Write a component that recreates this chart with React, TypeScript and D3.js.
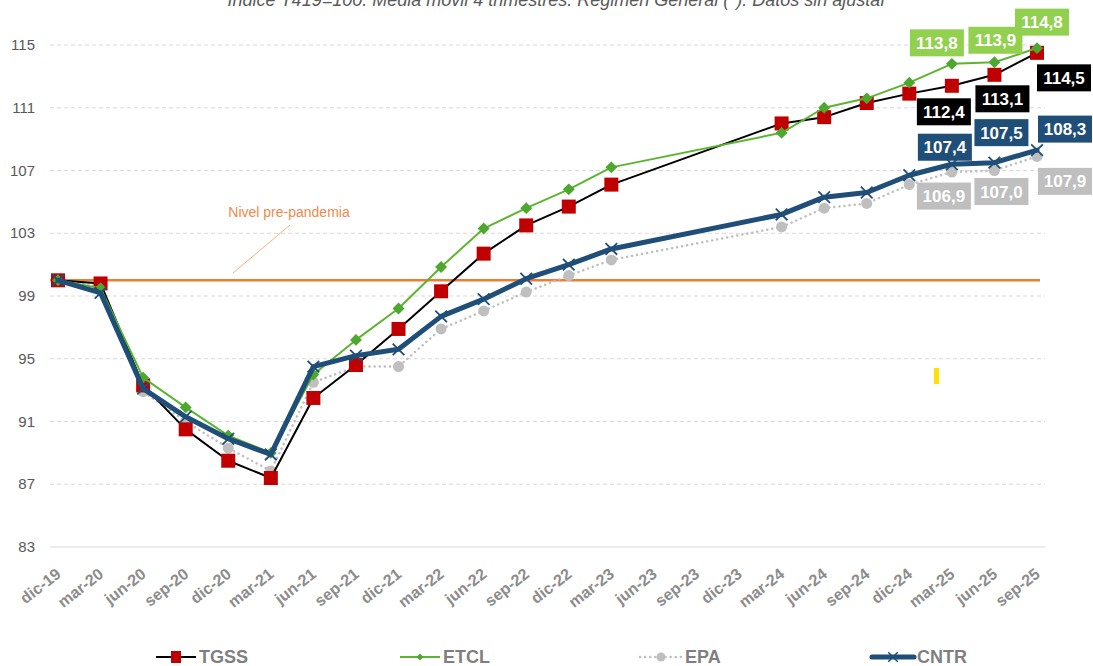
import React, { useRef, useEffect } from 'react'
import * as d3 from 'd3'

const categories = ['dic-19', 'mar-20', 'jun-20', 'sep-20', 'dic-20', 'mar-21', 'jun-21', 'sep-21', 'dic-21', 'mar-22', 'jun-22', 'sep-22',
  'dic-22', 'mar-23', 'jun-23', 'sep-23', 'dic-23', 'mar-24', 'jun-24', 'sep-24', 'dic-24', 'mar-25', 'jun-25', 'sep-25']

const tgss = [100, 99.8, 93.3, 90.5, 88.5, 87.4, 92.5, 94.6, 96.9, 99.3, 101.7, 103.5, 104.7, 106.1, null, null, null, 110.0, 110.4, 111.3, 111.9, 112.4, 113.1, 114.5]
const etcl = [100, 99.5, 93.8, 91.9, 90.1, 89.0, 94.0, 96.2, 98.2, 100.85, 103.3, 104.6, 105.8, 107.2, null, null, null, 109.4, 111.0, 111.6, 112.6, 113.8, 113.9, 114.8]
const epa = [100, 99.6, 92.9, 91.0, 89.3, 87.85, 93.5, 94.5, 94.5, 96.9, 98.05, 99.25, 100.3, 101.3, null, null, null, 103.4, 104.6, 104.9, 106.1, 106.9, 107.0, 107.9]
const cntr = [100, 99.2, 93.1, 91.3, 89.9, 88.9, 94.5, 95.2, 95.6, 97.7, 98.8, 100.1, 101.0, 102.0, null, null, null, 104.2, 105.3, 105.6, 106.7, 107.4, 107.5, 108.3]

const yTicks = [83, 87, 91, 95, 99, 103, 107, 111, 115]
const preLevel = 100

const title = 'Índice T419=100. Media móvil 4 trimestres. Régimen General (*). Datos sin ajustar'

export default function App() {
  const ref = useRef(null)

  const layout = { width: 1093, height: 666, left: 50, right: 1045, top: 45, bottom: 547 }

  useEffect(() => {
    const svg = d3.select(ref.current)
    svg.selectAll('*').remove()

    const x = d3.scalePoint().domain(categories).range([58, 1037])
    const y = d3.scaleLinear().domain([83, 115]).range([layout.bottom, layout.top])

    const font = 'Liberation Sans, Arial, sans-serif'

    // title (cut at the top like the original)
    svg.append('text')
      .attr('x', 557).attr('y', 6)
      .attr('text-anchor', 'middle')
      .attr('font-family', font).attr('font-style', 'italic')
      .attr('font-size', 18).attr('fill', '#595959')
      .text(title)

    // grid
    svg.append('g').selectAll('line')
      .data(yTicks)
      .join('line')
      .attr('x1', layout.left).attr('x2', layout.right)
      .attr('y1', d => y(d)).attr('y2', d => y(d))
      .attr('stroke', '#d9d9d9')
      .attr('stroke-width', 1)
      .attr('stroke-dasharray', d => d === 83 ? null : '4,3')

    svg.append('g').selectAll('text')
      .data(yTicks)
      .join('text')
      .attr('x', 35).attr('y', d => y(d) + 5)
      .attr('text-anchor', 'end')
      .attr('font-family', font).attr('font-size', 15)
      .attr('fill', '#595959')
      .text(d => d)

    svg.append('g').selectAll('text')
      .data(categories)
      .join('text')
      .attr('transform', d => `translate(${x(d) + 4},${576}) rotate(-38)`)
      .attr('text-anchor', 'end')
      .attr('font-family', font).attr('font-size', 16).attr('font-weight', 'bold')
      .attr('fill', '#8c8c8c')
      .text(d => d)

    // pre-pandemic level
    svg.append('line')
      .attr('x1', layout.left).attr('x2', 1040)
      .attr('y1', y(preLevel)).attr('y2', y(preLevel))
      .attr('stroke', '#ed7d31').attr('stroke-width', 2.5)

    svg.append('line')
      .attr('x1', 290).attr('y1', 225).attr('x2', 233).attr('y2', 273)
      .attr('stroke', '#f4b183').attr('stroke-width', 1)

    svg.append('text')
      .attr('x', 289).attr('y', 217)
      .attr('text-anchor', 'middle')
      .attr('font-family', font).attr('font-size', 14)
      .attr('fill', '#f08a4b')
      .text('Nivel pre-pandemia')

    // small yellow mark
    svg.append('rect')
      .attr('x', 934).attr('y', 368).attr('width', 5).attr('height', 16)
      .attr('fill', '#ffe000')

    const line = d3.line().x(d => x(d.c)).y(d => y(d.v))

    const series = [
      { name: 'EPA', values: epa, stroke: '#bfbfbf', width: 2.5, dash: '0.1,5', marker: 'circle', fill: '#bfbfbf', cap: 'round' },
      { name: 'TGSS', values: tgss, stroke: '#000000', width: 2, dash: null, marker: 'square', fill: '#c00000', cap: 'butt' },
      { name: 'ETCL', values: etcl, stroke: '#5cb531', width: 2, dash: null, marker: 'diamond', fill: '#4ea72e', cap: 'butt' },
      { name: 'CNTR', values: cntr, stroke: '#1f4e79', width: 5, dash: null, marker: 'cross', fill: 'none', cap: 'round' },
    ]

    series.forEach(s => {
      const pts = s.values.map((v, i) => ({ c: categories[i], v: v })).filter(d => d.v !== null)
      const g = svg.append('g')
      g.append('path')
        .datum(pts)
        .attr('d', line)
        .attr('fill', 'none')
        .attr('stroke', s.stroke)
        .attr('stroke-width', s.width)
        .attr('stroke-linejoin', 'round')
        .attr('stroke-linecap', s.cap)
        .attr('stroke-dasharray', s.dash)

      if (s.marker === 'square') {
        g.selectAll('rect').data(pts).join('rect')
          .attr('x', d => x(d.c) - 7).attr('y', d => y(d.v) - 7)
          .attr('width', 14).attr('height', 14)
          .attr('fill', s.fill)
      } else if (s.marker === 'diamond') {
        g.selectAll('path.m').data(pts).join('path')
          .attr('class', 'm')
          .attr('d', d3.symbol(d3.symbolDiamond2, 90))
          .attr('transform', d => `translate(${x(d.c)},${y(d.v)})`)
          .attr('fill', s.fill)
      } else if (s.marker === 'circle') {
        g.selectAll('circle').data(pts).join('circle')
          .attr('cx', d => x(d.c)).attr('cy', d => y(d.v)).attr('r', 5.5)
          .attr('fill', s.fill)
      } else {
        g.selectAll('path.m').data(pts).join('path')
          .attr('class', 'm')
          .attr('d', d3.symbol(d3.symbolX, 90))
          .attr('transform', d => `translate(${x(d.c)},${y(d.v)})`)
          .attr('fill', 'none')
          .attr('stroke', s.stroke).attr('stroke-width', 1.8)
      }
    })

    // data labels on the last three quarters
    const labelSpots = [
      { values: etcl, bg: '#92d050', off: [[-15, -21], [1, -22], [5, -26]] },
      { values: tgss, bg: '#000000', off: [[-8, 26], [8, 24], [27, 25]] },
      { values: cntr, bg: '#1f4e79', off: [[-7, -17], [7, -30], [28, -21]] },
      { values: epa, bg: '#bfbfbf', off: [[-8, 24], [7, 21], [28, 25]] },
    ]
    const lg = svg.append('g')
    labelSpots.forEach(l => {
      const n = l.values.length
      l.off.forEach((o, k) => {
        const i = n - 3 + k
        const cx = x(categories[i]) + o[0]
        const cy = y(l.values[i]) + o[1]
        lg.append('rect')
          .attr('x', cx - 27).attr('y', cy - 13.5)
          .attr('width', 54).attr('height', 27)
          .attr('fill', l.bg)
        lg.append('text')
          .attr('x', cx).attr('y', cy + 6)
          .attr('text-anchor', 'middle')
          .attr('font-family', font).attr('font-weight', 'bold').attr('font-size', 17)
          .attr('fill', '#ffffff')
          .text(l.values[i].toFixed(1).replace('.', ','))
      })
    })

    // legend
    const leg = svg.append('g')
    const ly = 657
    const legItems = [
      { s: series[1], x0: 156, x1: 196 },
      { s: series[2], x0: 400, x1: 440 },
      { s: series[0], x0: 640, x1: 682 },
      { s: series[3], x0: 872, x1: 914 },
    ]
    legItems.forEach(it => {
      const s = it.s
      const mx = (it.x0 + it.x1) / 2
      leg.append('line')
        .attr('x1', it.x0).attr('x2', it.x1).attr('y1', ly).attr('y2', ly)
        .attr('stroke', s.stroke).attr('stroke-width', s.width)
        .attr('stroke-linecap', s.cap)
        .attr('stroke-dasharray', s.dash)
      if (s.marker === 'square') {
        leg.append('rect').attr('x', mx - 5).attr('y', ly - 6).attr('width', 10).attr('height', 12).attr('fill', s.fill)
      } else if (s.marker === 'diamond') {
        leg.append('path').attr('d', d3.symbol(d3.symbolDiamond2, 30)).attr('transform', `translate(${mx},${ly})`).attr('fill', s.fill)
      } else if (s.marker === 'circle') {
        leg.append('circle').attr('cx', mx).attr('cy', ly).attr('r', 4.5).attr('fill', s.fill)
      } else {
        leg.append('path').attr('d', d3.symbol(d3.symbolX, 60)).attr('transform', `translate(${mx},${ly})`)
          .attr('fill', 'none').attr('stroke', s.stroke).attr('stroke-width', 1.5)
      }
      leg.append('text')
        .attr('x', it.x1 + 3).attr('y', ly + 6)
        .attr('font-family', font).attr('font-weight', 'bold').attr('font-size', 18)
        .attr('fill', '#7f7f7f')
        .text(s.name)
    })
  }, [])

  return (
    <svg ref={ref} width={layout.width} height={layout.height}
      style={{ position: 'absolute', left: 0, top: 0, background: '#ffffff' }} />
  )
}
